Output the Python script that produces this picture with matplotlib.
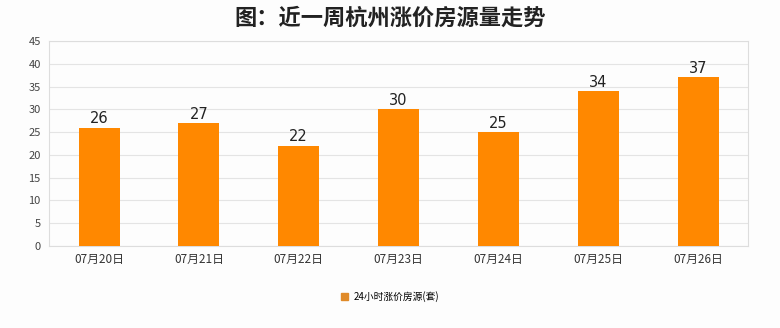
import matplotlib.pyplot as plt
import numpy as np
from matplotlib.patches import Patch

plt.rcParams['font.family'] = ['Noto Sans CJK SC', 'DejaVu Sans']

dates = ["07月20日", "07月21日", "07月22日", "07月23日", "07月24日", "07月25日", "07月26日"]
counts = [26, 27, 22, 30, 25, 34, 37]
series_name = "24小时涨价房源(套)"

fig = plt.figure(figsize=(7.8, 3.28), dpi=100, facecolor="#fdfdfd")
ax = fig.add_axes([0.063, 0.25, 0.896, 0.625])
ax.set_facecolor("#fdfdfd")

x = np.arange(len(dates))
ax.bar(x, counts, width=0.41, color="#ff8800", zorder=3)
for xi, v in zip(x, counts):
    ax.text(xi, v + 0.3, str(v), ha="center", va="bottom", fontsize=10.5,
            family="DejaVu Sans", color="#222222", zorder=4)

ax.set_xlim(-0.5, len(dates) - 0.5)
ax.set_ylim(0, 45)
ax.set_yticks(range(0, 46, 5))
ax.set_xticks(x)
ax.set_xticklabels(dates, fontsize=8.5, color="#333333")
ax.tick_params(axis="y", labelsize=8, colors="#444444", length=0, pad=6)
ax.tick_params(axis="x", length=0, pad=5)
ax.grid(axis="y", color="#e4e4e4", linewidth=0.8, zorder=0)
for s in ax.spines.values():
    s.set_color("#dddddd")
    s.set_linewidth(0.8)

fig.text(0.5, 0.945, "图：近一周杭州涨价房源量走势", ha="center", va="center",
         fontsize=16, fontweight="bold", color="#222222")

fig.legend(handles=[Patch(color="#e08a28", label=series_name)], loc="center",
           bbox_to_anchor=(0.5, 0.097), frameon=False, fontsize=7, handlelength=0.7,
           handleheight=0.7, handletextpad=0.6)

fig.savefig("out.png", dpi=100, facecolor=fig.get_facecolor())
